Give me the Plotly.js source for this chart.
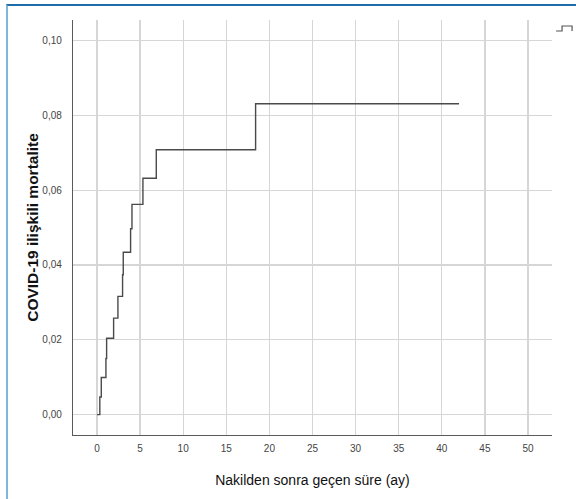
<!DOCTYPE html>
<html>
<head>
<meta charset="utf-8">
<script src="https://cdn.plot.ly/plotly-3.0.1.min.js"></script>
<style>
html,body{margin:0;padding:0;background:#fff;}
#chart{position:absolute;left:0;top:0;width:576px;height:499px;}
#frame{position:absolute;left:6px;top:4px;width:570px;height:495px;border-left:2px solid #80b6dc;border-top:2px solid #1f6cab;box-sizing:border-box;pointer-events:none;}
</style>
</head>
<body>
<div id="chart"></div>
<div id="frame"></div>
<script>
// Cumulative COVID-19 related mortality (step function)
const months = [0, 0.33, 0.5, 1.04, 1.12, 1.93, 2.43, 2.97, 3.05, 3.90, 4.06, 5.33, 6.88, 18.4, 42.0];
const mortality = [0, 0.0047, 0.0099, 0.0150, 0.0204, 0.0258, 0.0316, 0.0374, 0.0434, 0.0497, 0.0562, 0.0632, 0.0708, 0.0831, 0.0831];
const xTicks = [0, 5, 10, 15, 20, 25, 30, 35, 40, 45, 50];
const yTicks = [0, 0.02, 0.04, 0.06, 0.08, 0.10];

const trace = {
  x: months, y: mortality, type: 'scatter', mode: 'lines',
  line: {shape: 'hv', color: '#4a4a4a', width: 1.4},
  showlegend: false, hoverinfo: 'skip'
};

const layout = {
  width: 576, height: 499,
  margin: {l: 73, r: 24, t: 20, b: 64, pad: 0},
  paper_bgcolor: '#ffffff', plot_bgcolor: '#ffffff',
  separators: ',.',
  font: {family: 'Liberation Sans, Arial, sans-serif', color: '#333'},
  xaxis: {
    range: [-2.78, 52.78], tickvals: xTicks, ticktext: xTicks.map(String),
    showgrid: true, gridcolor: '#d6d6d6', gridwidth: 1.3,
    zeroline: false, showline: true, linecolor: '#5a5a5a', linewidth: 1.2,
    ticks: '', ticklabelstandoff: 4,
    tickfont: {size: 10, color: '#444'},
    title: {text: 'Nakilden sonra geçen süre (ay)', font: {size: 14, color: '#111'}, standoff: 22}
  },
  yaxis: {
    range: [-0.00546, 0.1055], tickvals: yTicks, tickformat: '.2f',
    showgrid: true, gridcolor: '#d6d6d6', gridwidth: 1.3,
    zeroline: false, showline: true, linecolor: '#5a5a5a', linewidth: 1.2,
    ticks: '', ticklabelstandoff: 8,
    tickfont: {size: 10, color: '#444'},
    title: {text: '<b>COVID-19 ilişkili mortalite</b>', font: {size: 15.5, color: '#111'}, standoff: 0}
  },
  shapes: [{
    type: 'path', xref: 'paper', yref: 'paper',
    path: 'M 1.0085 0.9735 L 1.0210 0.9735 L 1.0210 0.9855 L 1.0419 0.9855 L 1.0419 0.9735',
    line: {color: '#555', width: 1.2}
  }]
};

Plotly.newPlot('chart', [trace], layout, {displayModeBar: false, staticPlot: true});
</script>
</body>
</html>
